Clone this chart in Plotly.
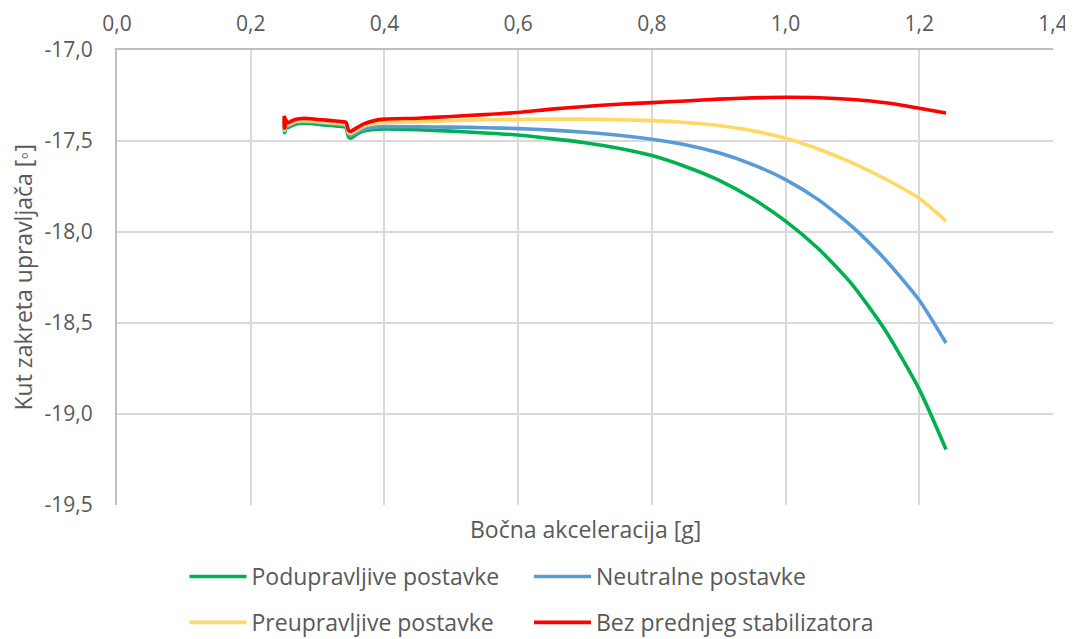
import plotly.graph_objects as go

# Lateral acceleration [g]
x_g = [0.250, 0.2505, 0.251, 0.2515, 0.252, 0.255, 0.260, 0.268, 0.278, 0.290,
       0.305, 0.320, 0.335, 0.341, 0.343, 0.346, 0.349, 0.353, 0.360, 0.370,
       0.385, 0.400, 0.45, 0.50, 0.55, 0.60, 0.65, 0.70, 0.75, 0.80,
       0.85, 0.90, 0.95, 1.00, 1.05, 1.10, 1.15, 1.20, 1.24]

podupravljive = [-17.390, -17.455, -17.395, -17.450, -17.405, -17.428, -17.418, -17.406, -17.402, -17.404,
                 -17.410, -17.415, -17.420, -17.423, -17.430, -17.475, -17.485, -17.478, -17.460, -17.444,
                 -17.436, -17.434, -17.438, -17.446, -17.456, -17.467, -17.487, -17.510, -17.540, -17.580,
                 -17.640, -17.715, -17.815, -17.940, -18.095, -18.290, -18.545, -18.865, -19.195]

neutralne = [-17.382, -17.445, -17.385, -17.440, -17.395, -17.418, -17.410, -17.398, -17.394, -17.396,
             -17.401, -17.406, -17.411, -17.414, -17.420, -17.462, -17.470, -17.464, -17.450, -17.435,
             -17.425, -17.421, -17.422, -17.424, -17.427, -17.432, -17.440, -17.452, -17.468, -17.490,
             -17.520, -17.565, -17.628, -17.712, -17.825, -17.972, -18.155, -18.375, -18.610]

preupravljive = [-17.375, -17.440, -17.380, -17.435, -17.390, -17.412, -17.404, -17.392, -17.388, -17.390,
                 -17.395, -17.400, -17.405, -17.408, -17.413, -17.452, -17.460, -17.453, -17.438, -17.418,
                 -17.403, -17.398, -17.395, -17.388, -17.383, -17.381, -17.380, -17.380, -17.383, -17.388,
                 -17.398, -17.415, -17.443, -17.485, -17.545, -17.620, -17.710, -17.815, -17.940]

bez_stabilizatora = [-17.362, -17.430, -17.370, -17.425, -17.380, -17.400, -17.392, -17.380, -17.376, -17.378,
                     -17.383, -17.388, -17.393, -17.396, -17.400, -17.440, -17.448, -17.440, -17.425, -17.405,
                     -17.388, -17.380, -17.375, -17.365, -17.355, -17.343, -17.325, -17.310, -17.298, -17.289,
                     -17.280, -17.270, -17.263, -17.260, -17.262, -17.272, -17.290, -17.320, -17.346]

series_names = ["Podupravljive postavke", "Neutralne postavke",
                "Preupravljive postavke", "Bez prednjeg stabilizatora"]
series_values = [podupravljive, neutralne, preupravljive, bez_stabilizatora]
series_colors = ["#00B050", "#5B9BD5", "#FFD966", "#FF0000"]
series_legend = ["legend", "legend2", "legend", "legend2"]

x_tickvals = [0.0, 0.2, 0.4, 0.6, 0.8, 1.0, 1.2, 1.4]
x_ticktext = ["0,0", "0,2", "0,4", "0,6", "0,8", "1,0", "1,2", "1,4"]
y_tickvals = [-17.0, -17.5, -18.0, -18.5, -19.0, -19.5]
y_ticktext = ["-17,0", "-17,5", "-18,0", "-18,5", "-19,0", "-19,5"]

FONT = "Open Sans, sans-serif"
TXT = "#595959"

# page body has an 8px margin, so the figure is a bit smaller than the window
W, H = 1065, 631

fig = go.Figure()
for name, vals, col, lg in zip(series_names, series_values, series_colors, series_legend):
    fig.add_trace(go.Scatter(
        x=x_g, y=vals, mode="lines", name=name,
        line=dict(color=col, width=3.6, shape="spline", smoothing=0.6),
        legend=lg, legendgroup=name,
    ))

legend_common = dict(
    orientation="v", bgcolor="rgba(0,0,0,0)", borderwidth=0,
    font=dict(family=FONT, size=23, color=TXT),
    tracegroupgap=13, yanchor="top", xanchor="left",
    xref="container", yref="container", itemwidth=57,
)

fig.update_layout(
    width=W, height=H,
    margin=dict(l=109, r=20, t=42, b=134, autoexpand=False),
    paper_bgcolor="white", plot_bgcolor="white",
    font=dict(family=FONT, size=23, color=TXT),
    showlegend=True,
    legend=dict(x=176.5 / W, y=1 - 547 / H, **legend_common),
    legend2=dict(x=521 / W, y=1 - 547 / H, **legend_common),
    xaxis=dict(
        range=[0, 1.4], tickmode="array", tickvals=x_tickvals, ticktext=x_ticktext,
        side="top", showline=True, linecolor="#bfbfbf", linewidth=2,
        showgrid=True, gridcolor="#d9d9d9", gridwidth=1.5, automargin=False,
        zeroline=False, ticks="", ticklabelstandoff=9,
        tickfont=dict(family=FONT, size=21, color=TXT),
    ),
    yaxis=dict(
        range=[-19.5, -17.0], tickmode="array", tickvals=y_tickvals, ticktext=y_ticktext,
        showline=True, linecolor="#bfbfbf", linewidth=2,
        showgrid=True, gridcolor="#d9d9d9", gridwidth=1.5, automargin=False,
        zeroline=False, ticks="", ticklabelstandoff=18,
        tickfont=dict(family=FONT, size=21, color=TXT),
    ),
    annotations=[
        dict(text="Bočna akceleracija [g]", xref="paper", yref="paper",
             x=0.5, y=0, xanchor="center", yanchor="top", yshift=-6,
             showarrow=False, font=dict(family=FONT, size=23, color=TXT)),
        dict(text="Kut zakreta upravljača [◦]", xref="paper", yref="paper",
             x=0, y=0.5, xanchor="center", yanchor="middle", xshift=-95,
             textangle=-90, showarrow=False,
             font=dict(family=FONT, size=23, color=TXT)),
    ],
)

fig.write_html("out.html")
